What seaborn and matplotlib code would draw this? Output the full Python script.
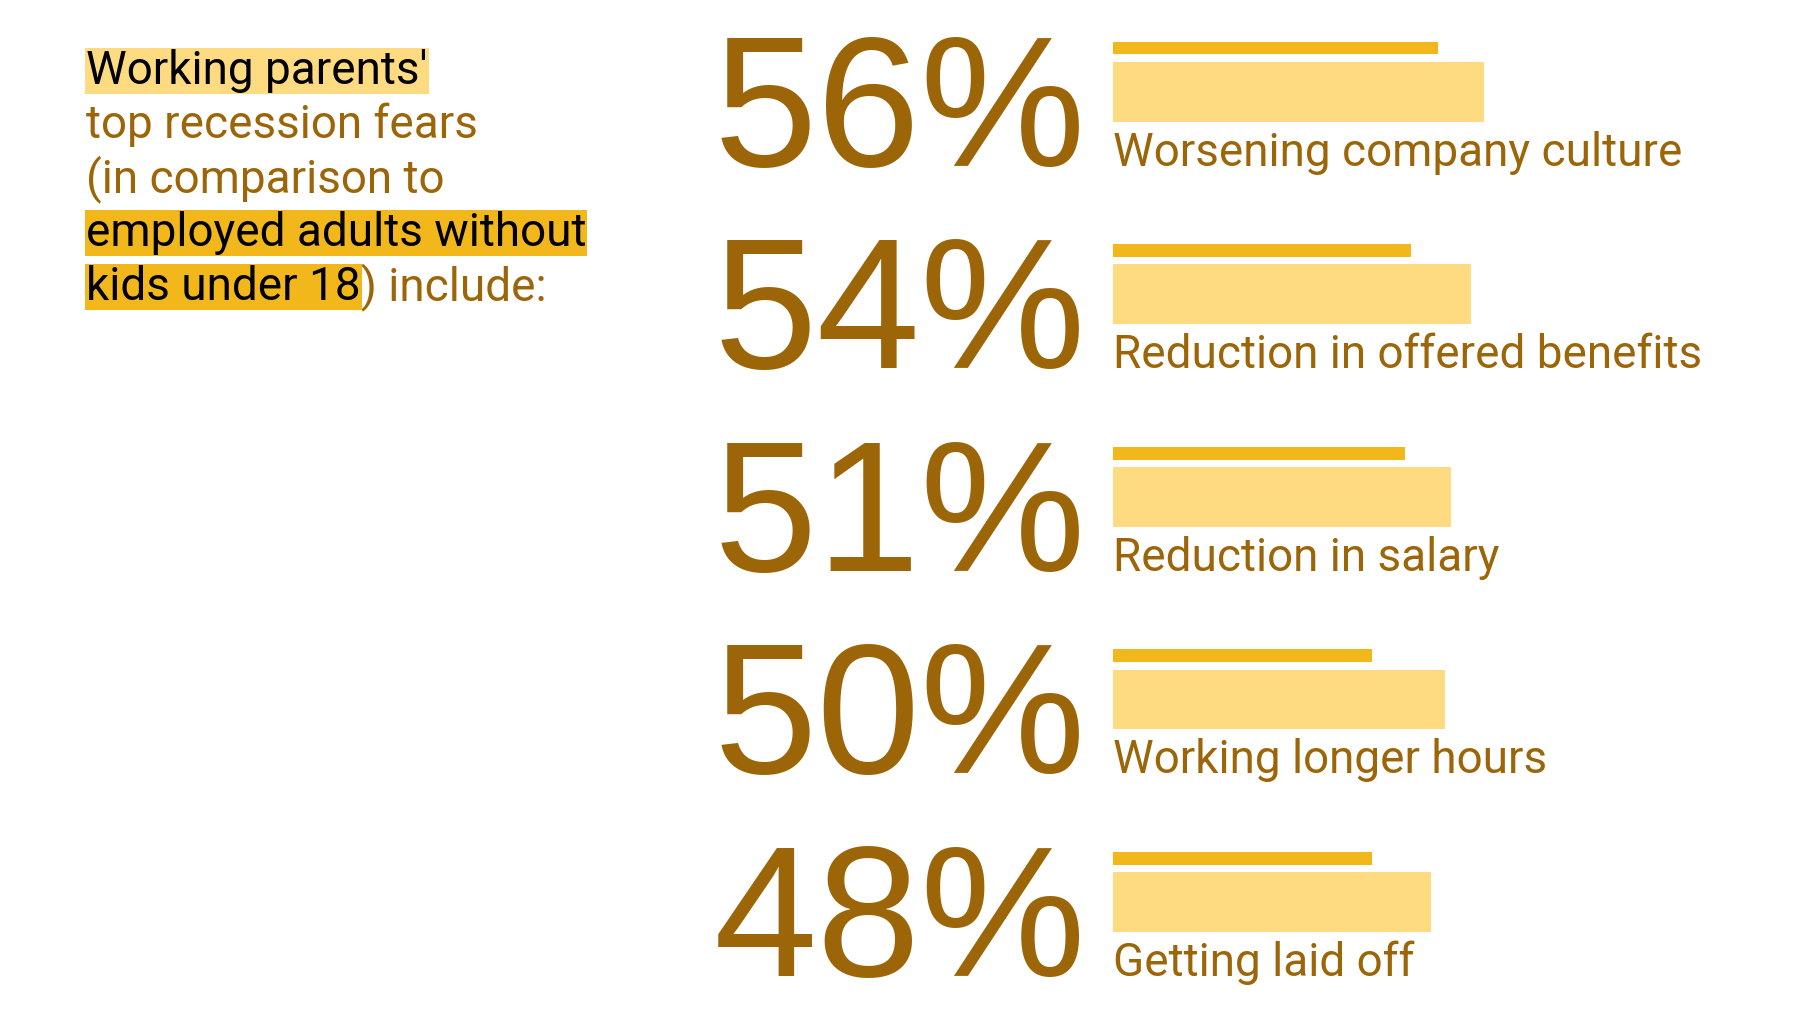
import numpy as np
import matplotlib
matplotlib.use("Agg")
import matplotlib.pyplot as plt
import matplotlib.transforms as mtransforms
import seaborn as sns

# datos
fears = ["Worsening company culture", "Reduction in offered benefits",
         "Reduction in salary", "Working longer hours", "Getting laid off"]
parents = [56, 54, 51, 50, 48]
no_kids = [49, 45, 44, 39, 39]
pct_labels = ["56%", "54%", "51%", "50%", "48%"]

title_lines = ["Working parents'", "top recession fears", "(in comparison to",
               "employed adults without", "kids under 18"]
title_tail = ") include:"

# colores
BROWN = "#9c6608"
GOLD = "#f2b81b"
LIGHT = "#fedb80"

sns.set_theme(style="white")
plt.rcParams['font.family'] = ['Roboto', 'DejaVu Sans']

W, H = 1800, 1013
fig = plt.figure(figsize=(18, 10.13), dpi=100)
fig.patch.set_facecolor("white")

# eje de barras: x en %, y en filas
ax = fig.add_axes([1113 / W, 0, 663 / W, 1])
row = np.arange(len(fears))
sns.barplot(x=parents, y=row.astype(float), orient="h", native_scale=True,
            width=0.296, color=LIGHT, saturation=1, errorbar=None,
            linewidth=0, ax=ax)
sns.barplot(x=no_kids, y=row - 0.217, orient="h", native_scale=True,
            width=0.064, color=GOLD, saturation=1, errorbar=None,
            linewidth=0, ax=ax)
ax.set_xlim(0, 100)
ax.set_ylim(4.548, -0.454)
ax.axis("off")

blend = mtransforms.blended_transform_factory(fig.transFigure, ax.transData)
for i, (lab, pct) in enumerate(zip(fears, pct_labels)):
    ax.text(714 / W, i + 0.365, pct, transform=blend, ha="left", va="baseline",
            fontsize=134, color=BROWN, family=["Liberation Sans", "DejaVu Sans"])
    ax.text(0, i + 0.365, lab, ha="left", va="baseline", fontsize=33,
            color=BROWN)

# titulo a la izquierda
x0 = 86 / W
base = 84
styles = [("black", LIGHT), (BROWN, None), (BROWN, None), ("black", GOLD), ("black", GOLD)]
texts = []
for k, (line, (col, hl)) in enumerate(zip(title_lines, styles)):
    y = 1 - (base + 54 * k) / H
    kw = {}
    if hl:
        kw["bbox"] = dict(boxstyle="square,pad=0.02", fc=hl, ec="none")
    t = fig.text(x0, y, line, ha="left", va="baseline", fontsize=33, color=col, **kw)
    texts.append(t)

fig.canvas.draw()
last = texts[-1]
ext = last.get_window_extent()
fig.text(ext.x1 / W, 1 - (base + 54 * 4) / H, title_tail, ha="left",
         va="baseline", fontsize=33, color=BROWN)

fig.savefig("out.png", dpi=100, facecolor="white")
